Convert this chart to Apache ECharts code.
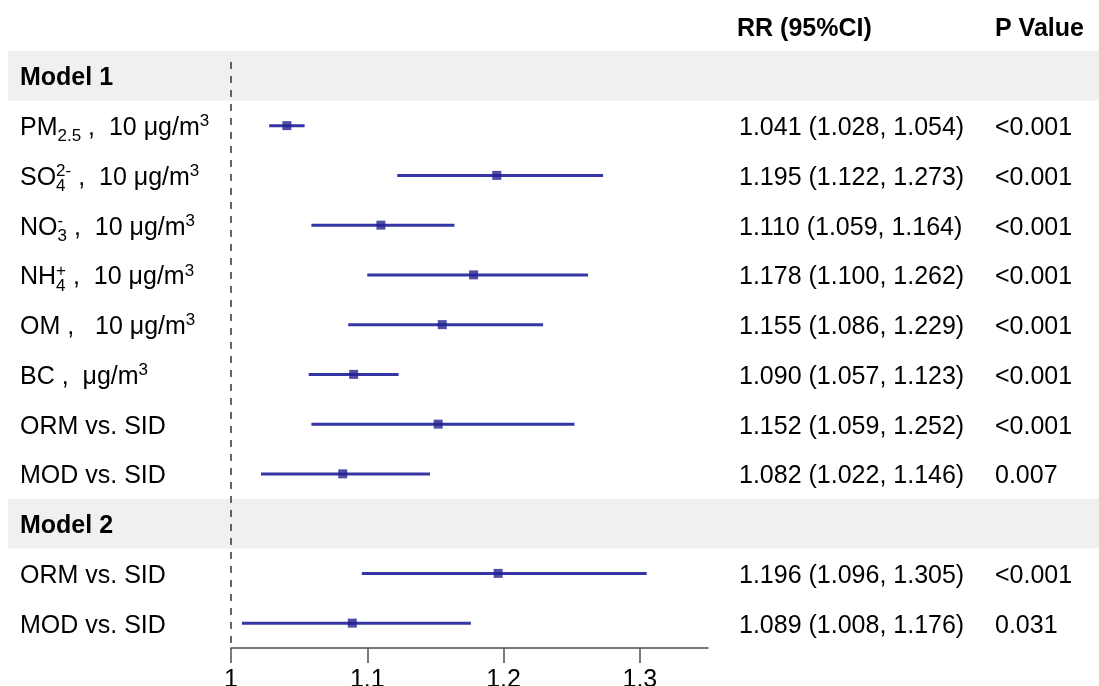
<!DOCTYPE html>
<html>
<head>
<meta charset="utf-8">
<title>Forest plot</title>
<script src="https://cdn.jsdelivr.net/npm/echarts@6/dist/echarts.min.js"></script>
<style>
  html, body { margin: 0; padding: 0; background: #fff; }
  #chart { width: 1099px; height: 686px; }
</style>
</head>
<body>
<div id="chart"></div>
<script>
// ---- data -------------------------------------------------------------
// Row labels use a tiny markup: _{..} subscript, ^{..} superscript.
const ROW_LABELS = [
  'Model 1',
  'PM_{2.5} ,  10 μg/m^{3}',
  'SO_{4}^{2-} ,  10 μg/m^{3}',
  'NO_{3}^{-} ,  10 μg/m^{3}',
  'NH_{4}^{+} ,  10 μg/m^{3}',
  'OM ,   10 μg/m^{3}',
  'BC ,  μg/m^{3}',
  'ORM vs. SID',
  'MOD vs. SID',
  'Model 2',
  'ORM vs. SID',
  'MOD vs. SID'
];
const HEADER_ROWS = [0, 9];
const RR_EST  = [null, 1.041, 1.195, 1.110, 1.178, 1.155, 1.090, 1.152, 1.082, null, 1.196, 1.089];
const RR_LOW  = [null, 1.028, 1.122, 1.059, 1.100, 1.086, 1.057, 1.059, 1.022, null, 1.096, 1.008];
const RR_HIGH = [null, 1.054, 1.273, 1.164, 1.262, 1.229, 1.123, 1.252, 1.146, null, 1.305, 1.176];
const P_VALUES = [null, '<0.001', '<0.001', '<0.001', '<0.001', '<0.001', '<0.001', '<0.001', '0.007', null, '<0.001', '0.031'];
const COLUMN_HEADERS = ['RR (95%CI)', 'P Value'];
const X_TICKS = [1, 1.1, 1.2, 1.3];
const X_RANGE = [1, 1.35];
const REF_VALUE = 1;

// ---- layout / style ---------------------------------------------------
const FONT_FAMILY = '"Liberation Sans", Arial, Helvetica, sans-serif';
const BASE_SIZE = 25;
const SCRIPT_SIZE = 17;
const TEXT_DY = 2.5;      // optical centring of text on a row
const SUB_DY = 8.5;
const SUP_DY = -6.5;
const LABEL_X = 20;
const RR_COL_X = 739;
const P_COL_X = 995;
const BAND_LEFT = 8;
const ROW_MIN = -0.5, ROW_MAX = ROW_LABELS.length - 0.5;
const REF_TOP = -0.28;
const CI_COLOR = '#3535a6';
const POINT_COLOR = '#22228f';

const baseFont = `${BASE_SIZE}px ${FONT_FAMILY}`;
const boldFont = `bold ${BASE_SIZE}px ${FONT_FAMILY}`;
const scriptFont = `${SCRIPT_SIZE}px ${FONT_FAMILY}`;

const measureCtx = document.createElement('canvas').getContext('2d');
function textWidth(text, font) {
  measureCtx.font = font;
  return measureCtx.measureText(text).width;
}

function parseMarkup(s) {
  const out = [];
  let buf = '', i = 0;
  while (i < s.length) {
    const c = s[i];
    if ((c === '_' || c === '^') && s[i + 1] === '{') {
      if (buf) { out.push({ kind: 'base', text: buf }); buf = ''; }
      const end = s.indexOf('}', i);
      out.push({ kind: c === '_' ? 'sub' : 'sup', text: s.slice(i + 2, end) });
      i = end + 1;
    } else {
      buf += c;
      i++;
    }
  }
  if (buf) out.push({ kind: 'base', text: buf });
  return out;
}

function textEl(x, y, text, font) {
  return {
    type: 'text',
    x: x, y: y,
    style: { text: text, font: font, fill: '#000', align: 'left', verticalAlign: 'middle' }
  };
}

// lay out a label piece by piece so sub/superscripts can be stacked
function buildLabel(markup, y, bold) {
  const tokens = parseMarkup(markup);
  const children = [];
  let x = LABEL_X;
  const font = bold ? boldFont : baseFont;
  for (let k = 0; k < tokens.length; k++) {
    const t = tokens[k];
    if (t.kind === 'base') {
      children.push(textEl(x, y, t.text, font));
      x += textWidth(t.text, font);
    } else {
      let adv = 0;
      const place = (tok) => {
        const dy = tok.kind === 'sub' ? SUB_DY : SUP_DY;
        children.push(textEl(x, y + dy, tok.text, scriptFont));
        adv = Math.max(adv, textWidth(tok.text, scriptFont));
      };
      place(t);
      const nx = tokens[k + 1];
      if (nx && nx.kind !== 'base' && nx.kind !== t.kind) { place(nx); k++; }
      x += adv;
    }
  }
  return children;
}

function fmt(v) { return v.toFixed(3); }

const estRows = RR_EST.map((v, i) => i).filter(i => RR_EST[i] !== null);

const chart = echarts.init(document.getElementById('chart'), null, { renderer: 'canvas' });

chart.setOption({
  animation: false,
  backgroundColor: '#fff',
  grid: { left: 231, right: 391, top: 51, bottom: 38, containLabel: false, outerBoundsMode: 'none' },
  xAxis: {
    type: 'value',
    position: 'bottom',
    min: X_RANGE[0],
    max: X_RANGE[1],
    splitLine: { show: false },
    axisLine: { show: true, onZero: false, lineStyle: { color: '#4d4d4d', width: 1.5 } },
    axisTick: { show: true, length: 15, customValues: X_TICKS, lineStyle: { color: '#4d4d4d', width: 1.5 } },
    axisLabel: {
      customValues: X_TICKS,
      fontSize: BASE_SIZE,
      fontFamily: FONT_FAMILY,
      color: '#000',
      margin: 20,
      formatter: (v) => String(v)
    }
  },
  yAxis: {
    type: 'value',
    inverse: true,
    min: ROW_MIN,
    max: ROW_MAX,
    show: false
  },
  series: [
    // shaded bands behind the model headings
    {
      type: 'custom',
      clip: false,
      z: 0,
      silent: true,
      data: HEADER_ROWS.map(r => [REF_VALUE, r]),
      encode: { x: 0, y: 1 },
      renderItem: (params, api) => {
        const y = api.coord([REF_VALUE, api.value(1)])[1];
        const h = api.size([0, 1])[1];
        return {
          type: 'rect',
          shape: { x: BAND_LEFT, y: y - h / 2, width: api.getWidth() - BAND_LEFT, height: h },
          style: { fill: '#f0f0f0' }
        };
      }
    },
    // dashed reference line at RR = 1
    {
      type: 'custom',
      clip: false,
      z: 2,
      silent: true,
      data: [[REF_VALUE, REF_TOP, ROW_MAX]],
      encode: { x: 0, y: [1, 2] },
      renderItem: (params, api) => {
        const p1 = api.coord([api.value(0), api.value(1)]);
        const p2 = api.coord([api.value(0), api.value(2)]);
        return {
          type: 'line',
          shape: { x1: p1[0], y1: p1[1], x2: p2[0], y2: p2[1] },
          style: { stroke: '#333', lineWidth: 1.5, lineDash: [7, 7] }
        };
      }
    },
    // confidence intervals
    {
      type: 'custom',
      z: 3,
      clip: false,
      data: estRows.map(i => [RR_LOW[i], RR_HIGH[i], i]),
      encode: { x: [0, 1], y: 2 },
      renderItem: (params, api) => {
        const p1 = api.coord([api.value(0), api.value(2)]);
        const p2 = api.coord([api.value(1), api.value(2)]);
        return {
          type: 'line',
          shape: { x1: p1[0], y1: p1[1], x2: p2[0], y2: p2[1] },
          style: { stroke: CI_COLOR, lineWidth: 3 }
        };
      }
    },
    // point estimates
    {
      type: 'scatter',
      z: 4,
      symbol: 'rect',
      symbolSize: 9,
      itemStyle: { color: POINT_COLOR },
      data: estRows.map(i => [RR_EST[i], i])
    },
    // row labels on the left
    {
      type: 'custom',
      clip: false,
      z: 5,
      silent: true,
      data: ROW_LABELS.map((t, i) => [REF_VALUE, i]),
      encode: { x: 0, y: 1 },
      renderItem: (params, api) => {
        const i = params.dataIndex;
        const y = api.coord([REF_VALUE, i])[1] + TEXT_DY;
        return { type: 'group', children: buildLabel(ROW_LABELS[i], y, HEADER_ROWS.includes(i)) };
      }
    },
    // RR (95%CI) and P value columns, with their headings one row above
    {
      type: 'custom',
      clip: false,
      z: 5,
      silent: true,
      data: [-1].concat(estRows).map(i => [REF_VALUE, i]),
      encode: { x: 0, y: 1 },
      renderItem: (params, api) => {
        const row = api.value(1);
        const y = api.coord([REF_VALUE, row])[1] + TEXT_DY;
        if (row < 0) {
          return {
            type: 'group',
            children: [
              textEl(RR_COL_X - 2, y, COLUMN_HEADERS[0], boldFont),
              textEl(P_COL_X, y, COLUMN_HEADERS[1], boldFont)
            ]
          };
        }
        const rr = `${fmt(RR_EST[row])} (${fmt(RR_LOW[row])}, ${fmt(RR_HIGH[row])})`;
        return {
          type: 'group',
          children: [
            textEl(RR_COL_X, y, rr, baseFont),
            textEl(P_COL_X, y, P_VALUES[row], baseFont)
          ]
        };
      }
    }
  ]
});
</script>
</body>
</html>
